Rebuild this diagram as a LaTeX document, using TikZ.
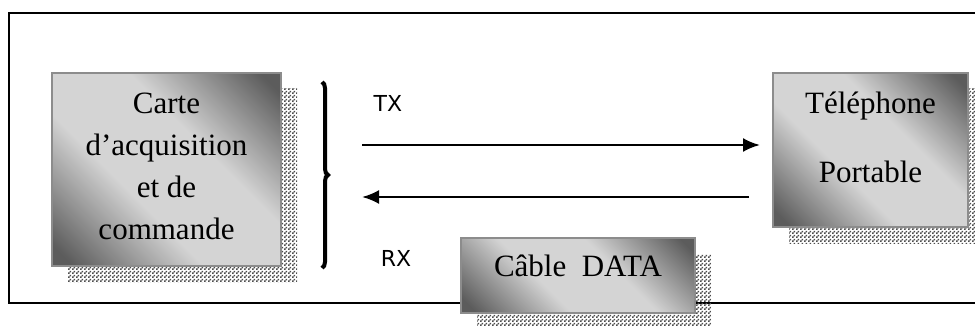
\documentclass[tikz,border=0pt]{standalone}
\usepackage{fontspec}
\setmainfont{Liberation Serif}
\newfontfamily\sigfont{DejaVu Sans}
\usepackage{tikz}
\usetikzlibrary{arrows.meta,patterns,shadows,decorations.pathreplacing}

\definecolor{boxdark}{gray}{0.36}
\definecolor{boxlight}{gray}{0.83}
\definecolor{boxedge}{gray}{0.55}

% grey fill of the blocks: dark corners, light middle band
\pgfdeclareverticalshading{blockshade}{100bp}{%
  color(0bp)=(boxdark); color(18bp)=(boxdark); color(40bp)=(boxlight);
  color(60bp)=(boxlight); color(82bp)=(boxdark); color(100bp)=(boxdark)}

% small checker for the shadows
\pgfdeclarepatternformonly{finechecker}{\pgfqpoint{0pt}{0pt}}{\pgfqpoint{4pt}{4pt}}{\pgfqpoint{4pt}{4pt}}{%
  \pgfpathrectangle{\pgfqpoint{0pt}{0pt}}{\pgfqpoint{2pt}{2pt}}%
  \pgfpathrectangle{\pgfqpoint{2pt}{2pt}}{\pgfqpoint{2pt}{2pt}}%
  \pgfusepath{fill}}

\tikzset{
  block/.style={draw=boxedge, line width=1.5pt, inner sep=0pt,
    shading=blockshade, shading angle=-45,
    general shadow={shadow xshift=16pt, shadow yshift=-16pt, pattern=finechecker, pattern color=gray!60!black}},
  blocktext/.style={font=\fontsize{31}{42}\selectfont, align=center, inner sep=0pt},
  sig/.style={line width=2.5pt, -{Latex[length=17pt,width=14pt]}},
  siglabel/.style={font=\sigfont\fontsize{22}{26}\selectfont, inner sep=0pt}
}

\begin{document}
\begin{tikzpicture}[x=1pt, y=-1pt]
\useasboundingbox (0,0) rectangle (975,326);

%%%%% Frame %%%%%
\draw[line width=2.5pt] (976,13) -- (9,13) -- (9,303) -- (976,303);

%%%%% Blocks %%%%%
\node[block, minimum width=229pt, minimum height=193pt] (carte) at (166.5,169.5) {};
\node[block, minimum width=195pt, minimum height=154pt] (phone) at (870.5,150) {};
\node[block, minimum width=234pt, minimum height=75pt] (cable) at (578,275.5) {};

\node[blocktext] (carte-txt) at ([yshift=3pt]carte.center) {Carte\\d’acquisition\\et de\\commande};
\node[blocktext] (phone-txt) at ([yshift=13pt]phone.center) {Téléphone\\[27pt]Portable};
\node[blocktext] (cable-txt) at ([yshift=10pt]cable.center) {Câble\ \ DATA};

%%%%% TX / RX %%%%%
\coordinate (tx-start) at (362,145);
\coordinate (tx-end) at (760,145);
\coordinate (rx-start) at (749,197);
\coordinate (rx-end) at (362,197);
\draw[sig] (tx-start) -- (tx-end);
\draw[sig] (rx-start) -- (rx-end);
\node[siglabel] (tx) at (388,103) {TX};
\node[siglabel] (rx) at (396,258) {RX};

% brace in front of the card
\coordinate (brace-top) at (322,82);
\coordinate (brace-bot) at (322,268);
\draw[decorate, decoration={brace, amplitude=6pt}, line width=4pt] (brace-top) -- (brace-bot);
\end{tikzpicture}
\end{document}
